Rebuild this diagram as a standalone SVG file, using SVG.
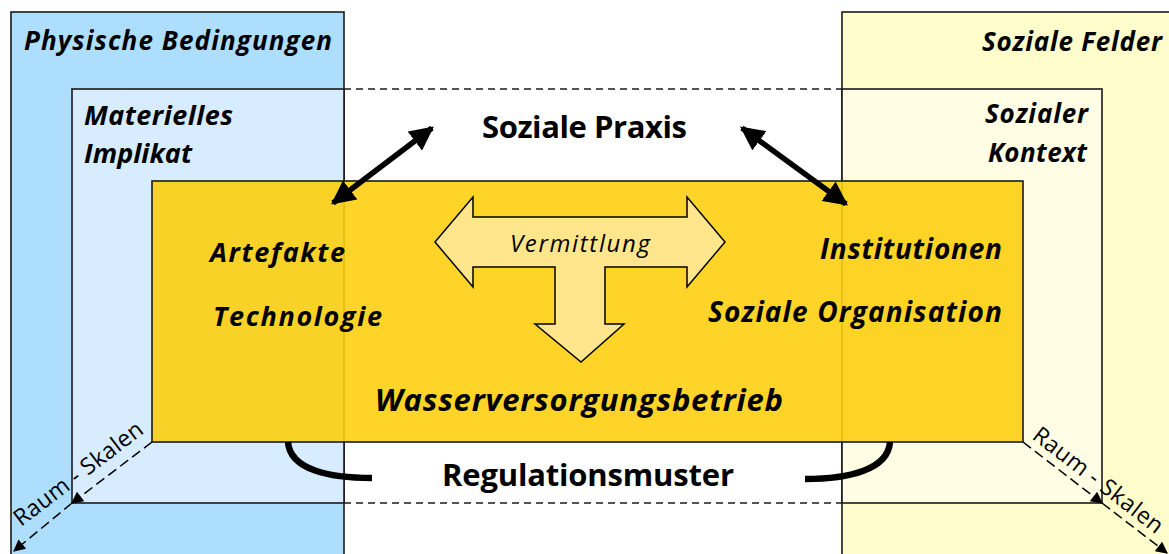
<svg xmlns="http://www.w3.org/2000/svg" width="1169" height="554" viewBox="0 0 1169 554">
  <style>
    .frame { stroke: #1a1a1a; stroke-width: 1.6; }
    .lbl { font-family: "Open Sans", "Noto Sans", "Liberation Sans", sans-serif; fill: #000; }
    .bi { font-weight: bold; font-style: italic; }
    .b { font-weight: bold; }
    .it { font-style: italic; }
    .dash { fill: none; stroke: #1a1a1a; stroke-width: 1.5; stroke-dasharray: 7 5; }
    .scale { fill: none; stroke: #000; stroke-width: 1.5; stroke-dasharray: 10 5; }
    .bold-arrow { fill: none; stroke: #000; stroke-width: 5.5; }
    .arc { fill: none; stroke: #000; stroke-width: 6.5; }
  </style>
  <defs>
    <marker id="headBig" viewBox="0 0 10 10" refX="9" refY="5" markerWidth="24" markerHeight="24" markerUnits="userSpaceOnUse" orient="auto-start-reverse">
      <path d="M0,0 L10,5 L0,10 Z" fill="#000"/>
    </marker>
    <marker id="headSmall" viewBox="0 0 10 10" refX="9" refY="5" markerWidth="14" markerHeight="12" markerUnits="userSpaceOnUse" orient="auto">
      <path d="M0,0 L10,5 L0,10 Z" fill="#000"/>
    </marker>
  </defs>

  <rect width="1169" height="554" fill="#fff"/>

  <!-- physical side -->
  <g id="physische-bedingungen">
    <rect x="11" y="12" width="333" height="560" fill="#ADDEFE" class="frame"/>
    <text class="lbl bi" x="24" y="50" font-size="26" textLength="308" lengthAdjust="spacing">Physische Bedingungen</text>
  </g>
  <g id="materielles-implikat">
    <rect x="72" y="89" width="272" height="414" fill="#D7ECFE" class="frame"/>
    <text class="lbl bi" x="84" y="125" font-size="27" textLength="149" lengthAdjust="spacing">Materielles</text>
    <text class="lbl bi" x="84" y="163" font-size="27" textLength="108" lengthAdjust="spacing">Implikat</text>
  </g>

  <!-- social side -->
  <g id="soziale-felder">
    <rect x="842" y="12" width="350" height="560" fill="#FFFDCB" class="frame"/>
    <text class="lbl bi" x="982" y="51" font-size="26" textLength="180" lengthAdjust="spacing">Soziale Felder</text>
  </g>
  <g id="sozialer-kontext">
    <rect x="842" y="89" width="260" height="414" fill="#FFFEE4" class="frame"/>
    <text class="lbl bi" x="985" y="123" font-size="26" textLength="103" lengthAdjust="spacing">Sozialer</text>
    <text class="lbl bi" x="988" y="162" font-size="26" textLength="99" lengthAdjust="spacing">Kontext</text>
  </g>

  <!-- social practice band between the two sides -->
  <g id="soziale-praxis">
    <line x1="344" y1="89" x2="842" y2="89" class="dash"/>
    <line x1="344" y1="503" x2="842" y2="503" class="dash"/>
    <text class="lbl b" x="482" y="138" font-size="31" textLength="205" lengthAdjust="spacing">Soziale Praxis</text>
  </g>

  <!-- water utility -->
  <g id="wasserversorgungsbetrieb">
    <rect x="152" y="181" width="871" height="261" fill="#FDCF10" fill-opacity="0.9" class="frame"/>
    <text class="lbl bi" x="210" y="262" font-size="27" textLength="135" lengthAdjust="spacing">Artefakte</text>
    <text class="lbl bi" x="213" y="326" font-size="27" textLength="169" lengthAdjust="spacing">Technologie</text>
    <text class="lbl bi" x="820" y="259" font-size="28" textLength="182" lengthAdjust="spacing">Institutionen</text>
    <text class="lbl bi" x="708" y="322" font-size="28" textLength="294" lengthAdjust="spacing">Soziale Organisation</text>
    <text class="lbl bi" x="375" y="411" font-size="31" textLength="408" lengthAdjust="spacing">Wasserversorgungsbetrieb</text>
  </g>

  <!-- mediation T-arrow -->
  <g id="vermittlung">
    <path d="M435,242 L473,197 L473,217 L687,217 L687,197 L725,242 L687,287 L687,267 L605,267 L605,324 L624,324 L581,362 L535,324 L555,324 L555,267 L473,267 L473,287 Z" fill="#FFE68C" stroke="#000" stroke-width="1.5" stroke-linejoin="miter"/>
    <text class="lbl it" x="510" y="252" font-size="24" textLength="140" lengthAdjust="spacing">Vermittlung</text>
  </g>

  <g id="regulationsmuster">
    <text class="lbl b" x="442" y="486" font-size="31" textLength="292" lengthAdjust="spacing">Regulationsmuster</text>
  </g>

  <!-- connectors -->
  <g id="connectors">
    <line x1="333" y1="203" x2="432" y2="128" class="bold-arrow" marker-start="url(#headBig)" marker-end="url(#headBig)"/>
    <line x1="742" y1="128" x2="846" y2="204" class="bold-arrow" marker-start="url(#headBig)" marker-end="url(#headBig)"/>

    <path d="M288,442 C290,470 330,478 372,478" class="arc"/>
    <path d="M890,442 C888,470 848,479 805,479" class="arc"/>

    <!-- spatial scales, left -->
    <line x1="152" y1="442" x2="72" y2="503" class="scale" marker-end="url(#headSmall)"/>
    <line x1="72" y1="503" x2="14" y2="551" class="scale" marker-end="url(#headSmall)"/>
    <text class="lbl" font-size="23" textLength="156" lengthAdjust="spacing" transform="translate(21,527) rotate(-37.3)">Raum - Skalen</text>

    <!-- spatial scales, right -->
    <line x1="1023" y1="442" x2="1102" y2="503" class="scale" marker-end="url(#headSmall)"/>
    <line x1="1102" y1="503" x2="1167" y2="553" class="scale" marker-end="url(#headSmall)"/>
    <text class="lbl" font-size="23" textLength="158" lengthAdjust="spacing" transform="translate(1031,438) rotate(37.7)">Raum - Skalen</text>
  </g>
</svg>
